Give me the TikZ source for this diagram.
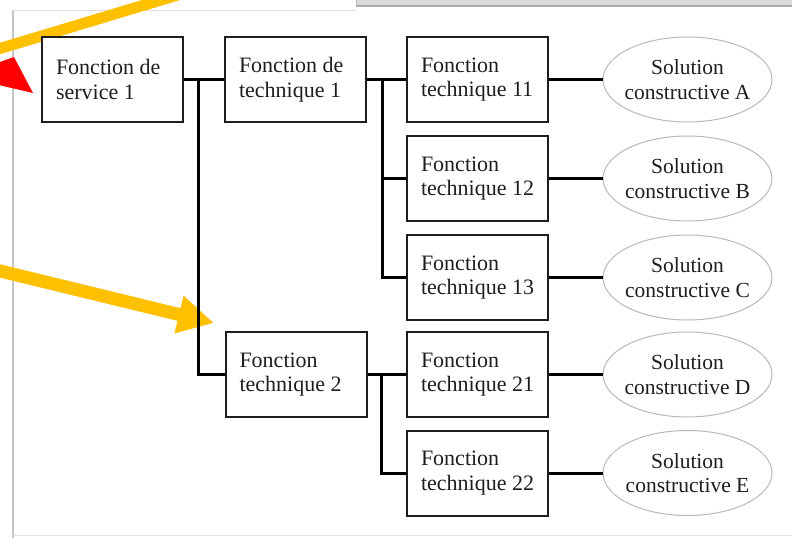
\documentclass[tikz,border=0pt]{standalone}
\usepackage{fontspec}
\setmainfont{Liberation Serif}
\usetikzlibrary{shapes.geometric,arrows.meta}
\definecolor{gold}{HTML}{FFC000}
\definecolor{ink}{HTML}{1E1E1E}
\tikzset{
  fbox/.style={draw=ink, line width=2pt, fill=white, minimum width=141pt, minimum height=85pt,
    inner xsep=14pt, inner ysep=0pt, text width=113pt, align=flush left, text=ink,
    font=\fontsize{22}{24.5}\selectfont},
  sol/.style={ellipse, draw=gray!55, line width=1pt, fill=white, minimum width=169pt,
    minimum height=85pt, inner sep=0pt},
  soltext/.style={align=center, text=ink, inner sep=0pt, font=\fontsize{21.5}{24.5}\selectfont},
  conn/.style={line width=3pt, draw=black},
  hint/.style={line width=12pt, draw=gold}
}
\begin{document}
\begin{tikzpicture}[x=1pt, y=-1pt]
\useasboundingbox (0,0) rectangle (792,538);
% page frame
\fill[white] (0,0) rectangle (792,538);
\draw[gray!45, line width=2pt] (13,10) -- (13,538);
\draw[gray!25, line width=1pt] (13,10) -- (356,10);
\draw[gray!25, line width=1pt] (13,535) -- (792,535);
\fill[gray!30] (356,-2) rectangle (793,7);
\draw[gray!65, line width=2pt] (356,6) -- (793,6);
\draw[gray!55, line width=1pt] (356,-2) -- (356,6);
% annotation arrows
\begin{scope}
\clip (0,0) rectangle (792,538);
\draw[hint, line width=11pt] (181,-6) -- (-10,51.5);
\fill[red] (14,57) -- (33,93) -- (-40,76) -- cycle;
\draw[hint, line width=13pt, -{Triangle[length=36pt, width=36pt]}] (-10,268.5) -- (214,323);
\end{scope}
% nodes
\node[fbox] (s1)  at (112.5,79.5) {Fonction de\\service 1};
\node[fbox] (t1)  at (295.5,79.5) {Fonction de\\technique 1};
\node[fbox] (t2)  at (296,374.5)  {Fonction\\technique 2};
\node[fbox] (t11) at (477.5,79.5) {Fonction\\technique 11};
\node[fbox] (t12) at (477.5,178.5) {Fonction\\technique 12};
\node[fbox] (t13) at (477.5,277.5) {Fonction\\technique 13};
\node[fbox] (t21) at (477.5,374.5) {Fonction\\technique 21};
\node[fbox] (t22) at (477.5,473) {Fonction\\technique 22};
\node[sol, label={[soltext]center:Solution\\constructive A}] (sa) at (687.5,79.5) {};
\node[sol, label={[soltext]center:Solution\\constructive B}] (sb) at (687.5,178.5) {};
\node[sol, label={[soltext]center:Solution\\constructive C}] (sc) at (687.5,277.5) {};
\node[sol, label={[soltext]center:Solution\\constructive D}] (sd) at (687.5,374.5) {};
\node[sol, label={[soltext]center:Solution\\constructive E}] (se) at (687.5,473) {};
% connectors
\draw[conn] (s1.east) -- (t1.west);
\draw[conn] ([xshift=14pt]s1.east) |- (t2.west);
\draw[conn] (t1.east) -- (t11.west);
\draw[conn] ([xshift=15pt]t1.east) |- (t12.west);
\draw[conn] ([xshift=15pt]t1.east) |- (t13.west);
\draw[conn] (t2.east) -- (t21.west);
\draw[conn] ([xshift=14pt]t2.east) |- (t22.west);
\draw[conn] (t11.east) -- (sa.west);
\draw[conn] (t12.east) -- (sb.west);
\draw[conn] (t13.east) -- (sc.west);
\draw[conn] (t21.east) -- (sd.west);
\draw[conn] (t22.east) -- (se.west);
\end{tikzpicture}
\end{document}
